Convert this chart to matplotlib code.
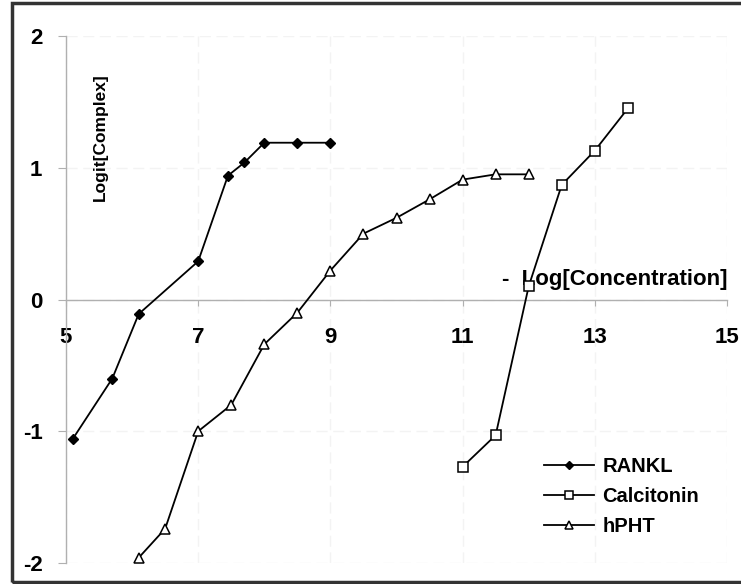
# -*- coding: utf-8 -*-

import matplotlib
matplotlib.use('Agg')
import matplotlib.pyplot as plt
from matplotlib.patches import Rectangle

plt.rcParams['font.family'] = ['Liberation Sans', 'DejaVu Sans']
plt.rcParams['axes.unicode_minus'] = False

# binding curves: Log[Concentration] vs Logit[Complex]
rankl_x = [5.1, 5.7, 6.1, 7.0, 7.45, 7.7, 8.0, 8.5, 9.0]
rankl_y = [-1.06, -0.60, -0.11, 0.29, 0.94, 1.04, 1.19, 1.19, 1.19]

calcitonin_x = [11.0, 11.5, 12.0, 12.5, 13.0, 13.5]
calcitonin_y = [-1.27, -1.03, 0.10, 0.87, 1.13, 1.45]

hpht_x = [6.1, 6.5, 7.0, 7.5, 8.0, 8.5, 9.0, 9.5, 10.0, 10.5, 11.0, 11.5, 12.0]
hpht_y = [-1.96, -1.74, -1.00, -0.80, -0.34, -0.10, 0.22, 0.50, 0.62, 0.76,
          0.91, 0.95, 0.95]

x_ticks = [5, 7, 9, 11, 13, 15]
y_ticks = [-2, -1, 0, 1, 2]

fig = plt.figure(figsize=(7.41, 5.84), dpi=100)
ax = fig.add_axes([66 / 741, 1 - 563 / 584, 661 / 741, 527 / 584])

ax.plot(rankl_x, rankl_y, color='black', lw=1.3, marker='D', ms=5.5,
        mfc='black', mec='black', label='RANKL', zorder=3)
ax.plot(calcitonin_x, calcitonin_y, color='black', lw=1.3, marker='s', ms=7.5,
        mfc='white', mec='black', mew=1.1, label='Calcitonin', zorder=3)
ax.plot(hpht_x, hpht_y, color='black', lw=1.3, marker='^', ms=7.5,
        mfc='white', mec='black', mew=1.1, label='hPHT', zorder=3)

ax.set_xlim(5, 15)
ax.set_ylim(-2, 2)

# x axis sits on y = 0, y axis on x = 5
ax.spines['bottom'].set_position(('data', 0))
ax.spines['top'].set_visible(False)
ax.spines['right'].set_visible(False)
for s in ('left', 'bottom'):
    ax.spines[s].set_color('#b0b0b0')
    ax.spines[s].set_linewidth(1.0)

ax.set_xticks(x_ticks)
ax.set_yticks(y_ticks)
ax.tick_params(axis='x', direction='out', length=4, pad=16, color='#b0b0b0',
               labelsize=16)
ax.tick_params(axis='y', direction='out', length=6, pad=11, color='#b0b0b0',
               labelsize=16)
for lab in ax.get_xticklabels() + ax.get_yticklabels():
    lab.set_fontweight('bold')

ax.grid(True, color='#f3f3f3', lw=1.0, ls=(0, (8, 4)))
ax.set_axisbelow(True)

ax.text(0.052, 0.93, 'Logit[Complex]', transform=ax.transAxes, rotation=90,
        ha='center', va='top', fontsize=12.5, fontweight='bold')
ax.text(1.0, 0.518, '-  Log[Concentration]', transform=ax.transAxes,
        ha='right', va='bottom', fontsize=16, fontweight='bold', zorder=2)

ax.legend(loc='lower right', bbox_to_anchor=(0.985, 0.016), frameon=False,
          handlelength=2.5, handletextpad=0.4, labelspacing=0.55,
          markerscale=0.8, prop={'weight': 'bold', 'size': 14.5})

# outer frame around the figure
fig.patches.append(Rectangle((12 / 741, 2 / 584), 740 / 741, 579 / 584,
                             transform=fig.transFigure, fill=False,
                             edgecolor='#333333', lw=2.5, zorder=10))

plt.savefig('out.png', dpi=100)
